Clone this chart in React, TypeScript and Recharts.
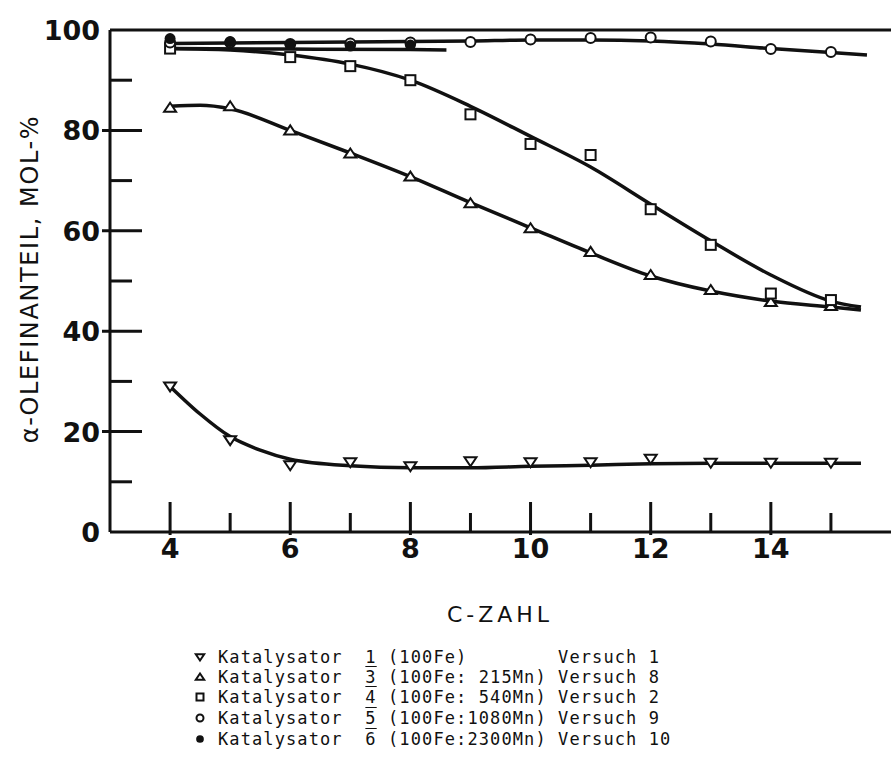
import React from "react"
import { ComposedChart, Line, Scatter, XAxis, YAxis, ReferenceLine } from "recharts"

const cTicks = [4, 5, 6, 7, 8, 9, 10, 11, 12, 13, 14, 15]
const yTicks = [0, 10, 20, 30, 40, 50, 60, 70, 80, 90, 100]

// measured points (C-Zahl, alpha-olefin share in mol-%)
const kat1C = [4, 5, 6, 7, 8, 9, 10, 11, 12, 13, 14, 15]
const kat1Y = [29, 18.3, 13.3, 13.9, 13.1, 14.1, 13.9, 13.9, 14.6, 13.8, 13.8, 13.8]
const kat3C = [4, 5, 6, 7, 8, 9, 10, 11, 12, 13, 14, 15]
const kat3Y = [84.5, 84.8, 80, 75.4, 70.8, 65.5, 60.5, 55.8, 51.2, 48.2, 45.8, 45]
const kat4C = [4, 6, 7, 8, 9, 10, 11, 12, 13, 14, 15]
const kat4Y = [96.3, 94.6, 92.8, 90, 83.2, 77.3, 75.1, 64.3, 57.2, 47.5, 46.2]
const kat5C = [4, 5, 6, 7, 8, 9, 10, 11, 12, 13, 14, 15]
const kat5Y = [97.5, 97.5, 97.2, 97.3, 97.5, 97.6, 98.1, 98.4, 98.5, 97.7, 96.2, 95.6]
const kat6C = [4, 5, 6, 7, 8]
const kat6Y = [98.3, 97.7, 97.1, 96.8, 97]

// hand drawn fit curves
const fit1C = [4, 4.5, 5, 5.5, 6, 7, 8, 9, 10, 11, 12, 13, 14, 15, 15.5]
const fit1Y = [29, 23.5, 19, 16.3, 14.5, 13.2, 12.8, 12.8, 13.1, 13.3, 13.6, 13.7, 13.7, 13.7, 13.7]
const fit3C = [4, 4.5, 5, 6, 7, 8, 9, 10, 11, 12, 13, 14, 15, 15.5]
const fit3Y = [84.8, 85, 84.3, 80, 75.5, 70.8, 65.6, 60.6, 55.6, 51, 48, 46, 44.8, 44.2]
const fit4C = [4, 5, 6, 7, 8, 9, 10, 11, 12, 13, 14, 15, 15.5]
const fit4Y = [96.3, 96, 95, 93.2, 90, 84.8, 78.8, 72.7, 65.3, 58, 51.2, 46, 44.8]
const fit5C = [4, 5, 6, 7, 8, 9, 10, 11, 12, 13, 14, 15, 15.6]
const fit5Y = [97.3, 97.4, 97.5, 97.6, 97.7, 97.8, 98, 98, 97.8, 97.2, 96.3, 95.5, 95]
const fit6C = [4, 6, 8, 8.6]
const fit6Y = [96.3, 96.2, 96.1, 96]

const legendSymbols = ["down", "up", "square", "circle", "dot"]
const legendNumbers = ["1", "3", "4", "5", "6"]
const legendRatios = ["(100Fe)       ", "(100Fe: 215Mn)", "(100Fe: 540Mn)", "(100Fe:1080Mn)", "(100Fe:2300Mn)"]
const legendVersuch = ["1", "8", "2", "9", "10"]

const pts = (xs: number[], ys: number[]) => xs.map((x, i) => ({ x, y: ys[i] }))

const INK = "#111"
const tickFont = "'DejaVu Sans', sans-serif"

function Marker({ kind, cx, cy, s = 1 }: { kind: string; cx: number; cy: number; s?: number }) {
  if (kind === "down")
    return (
      <polygon
        points={`${cx - 6 * s},${cy - 4 * s} ${cx + 6 * s},${cy - 4 * s} ${cx},${cy + 5 * s}`}
        fill="#fff"
        stroke={INK}
        strokeWidth={2}
      />
    )
  if (kind === "up")
    return (
      <polygon
        points={`${cx - 6 * s},${cy + 4 * s} ${cx + 6 * s},${cy + 4 * s} ${cx},${cy - 5 * s}`}
        fill="#fff"
        stroke={INK}
        strokeWidth={2}
      />
    )
  if (kind === "square")
    return <rect x={cx - 5 * s} y={cy - 5 * s} width={10 * s} height={10 * s} fill="#fff" stroke={INK} strokeWidth={2} />
  if (kind === "circle") return <circle cx={cx} cy={cy} r={5 * s} fill="#fff" stroke={INK} strokeWidth={2} />
  return <circle cx={cx} cy={cy} r={5.5 * s} fill={INK} />
}

const shapeOf = (kind: string) => (p: any) => <Marker kind={kind} cx={p.cx} cy={p.cy} />

function YTick({ x, y, payload }: any) {
  const v = payload.value
  const major = v % 20 === 0
  return (
    <g>
      {v > 0 && v < 100 && (
        <line x1={x - (major ? 8 : 0)} x2={x + (major ? 32 : 22)} y1={y} y2={y} stroke={INK} strokeWidth={3} />
      )}
      {major && (
        <text x={x - 10} y={y + 10} textAnchor="end" fontFamily={tickFont} fontWeight="bold" fontSize={27} fill={INK}>
          {v}
        </text>
      )}
    </g>
  )
}

function XTick({ x, y, payload }: any) {
  const v = payload.value
  const major = v % 2 === 0
  return (
    <g>
      <line x1={x} x2={x} y1={y + (major ? 3 : 0)} y2={y - (major ? 30 : 19)} stroke={INK} strokeWidth={3} />
      {major && (
        <text x={x} y={y + 26} textAnchor="middle" fontFamily={tickFont} fontWeight="bold" fontSize={27} fill={INK}>
          {v}
        </text>
      )}
    </g>
  )
}

const series = [
  { fit: pts(fit1C, fit1Y), marks: pts(kat1C, kat1Y), kind: "down" },
  { fit: pts(fit3C, fit3Y), marks: pts(kat3C, kat3Y), kind: "up" },
  { fit: pts(fit4C, fit4Y), marks: pts(kat4C, kat4Y), kind: "square" },
  { fit: pts(fit5C, fit5Y), marks: pts(kat5C, kat5Y), kind: "circle" },
  { fit: pts(fit6C, fit6Y), marks: pts(kat6C, kat6Y), kind: "dot" },
]

const rowCenters = [657, 677, 697, 718, 739]

export default function App() {
  return (
    <div style={{ position: "absolute", left: 0, top: 0, width: 891, height: 780, background: "#fff" }}>
      <ComposedChart width={891} height={780} margin={{ top: 30, right: 0, bottom: 218, left: 50 }}>
        <XAxis
          type="number"
          dataKey="x"
          domain={[3, 16]}
          ticks={cTicks}
          interval={0}
          tickSize={0}
          tickMargin={0}
          tickLine={false}
          axisLine={{ stroke: INK, strokeWidth: 3 }}
          tick={<XTick />}
          height={30}
          label={{
            content: () => (
              <text x={500} y={622} textAnchor="middle" fontFamily={tickFont} fontSize={22} letterSpacing={4} fill={INK}>
                C-ZAHL
              </text>
            ),
          }}
        />
        <YAxis
          type="number"
          dataKey="y"
          domain={[0, 100]}
          ticks={yTicks}
          interval={0}
          tickSize={0}
          tickMargin={0}
          tickLine={false}
          axisLine={{ stroke: INK, strokeWidth: 3 }}
          tick={<YTick />}
          width={60}
          label={{
            content: () => (
              <text
                x={30}
                y={279}
                transform="rotate(-90, 30, 279)"
                textAnchor="middle"
                dominantBaseline="central"
                fontFamily={tickFont}
                fontSize={24}
                letterSpacing={1.6}
                fill={INK}
              >
                α-OLEFINANTEIL, MOL-%
              </text>
            ),
          }}
        />
        <ReferenceLine y={100} stroke={INK} strokeWidth={3} />
        {series.map((s, i) => (
          <Line
            key={"fit" + i}
            data={s.fit}
            dataKey="y"
            type="monotone"
            stroke={INK}
            strokeWidth={3.5}
            dot={false}
            activeDot={false}
            isAnimationActive={false}
          />
        ))}
        {series.map((s, i) => (
          <Scatter key={"pts" + i} data={s.marks} dataKey="y" shape={shapeOf(s.kind)} isAnimationActive={false} />
        ))}
      </ComposedChart>
      {legendSymbols.map((kind, i) => (
        <div key={kind} style={{ position: "absolute", left: 0, top: rowCenters[i] - 10, height: 20 }}>
          <svg width={14} height={14} style={{ position: "absolute", left: 193, top: 3 }}>
            <Marker kind={kind} cx={7} cy={7} s={0.7} />
          </svg>
          <span
            style={{
              position: "absolute",
              left: 218,
              top: 0,
              whiteSpace: "pre",
              fontFamily: "'DejaVu Sans Mono', monospace",
              fontSize: 17,
              letterSpacing: 1.1,
              lineHeight: "20px",
              color: INK,
            }}
          >
            {"Katalysator  "}
            <span style={{ textDecoration: i > 0 ? "overline" : "none" }}>{legendNumbers[i]}</span>
            {" " + legendRatios[i] + " Versuch " + legendVersuch[i]}
          </span>
        </div>
      ))}
    </div>
  )
}
